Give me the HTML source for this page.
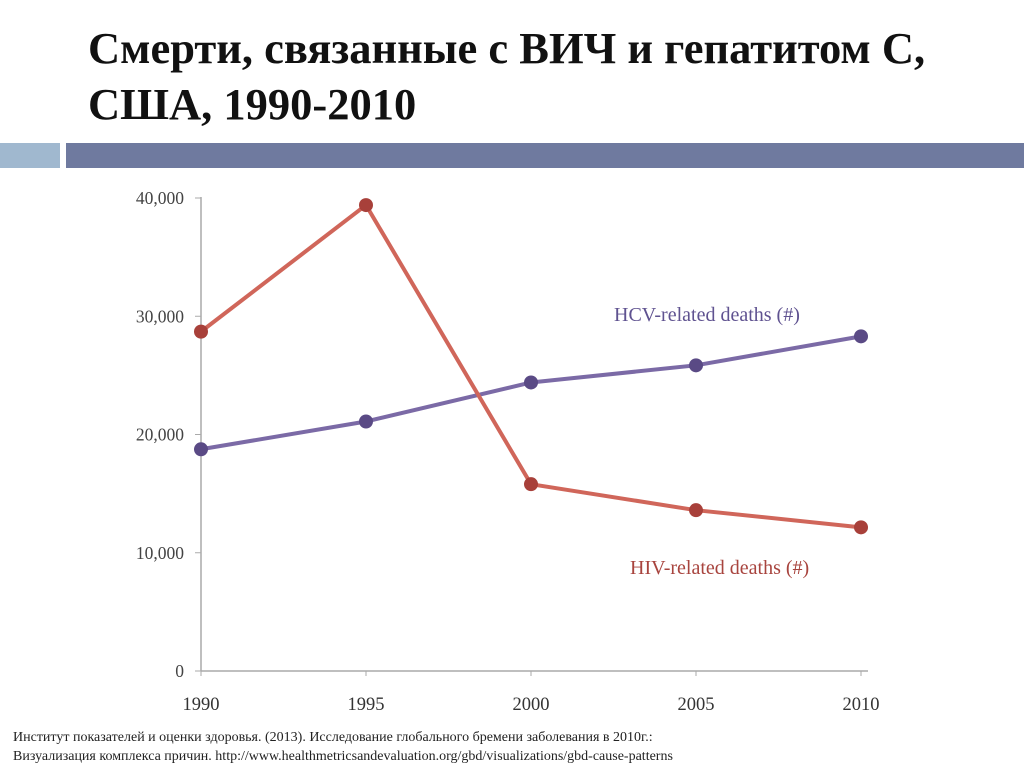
<!DOCTYPE html>
<html><head><meta charset="utf-8"><style>
body{margin:0;width:1024px;height:768px;background:#fff;overflow:hidden;position:relative;font-family:"Liberation Serif",serif}
.t{position:absolute;left:88px;top:20px;font-size:44.5px;font-weight:bold;line-height:56px;color:#111;white-space:nowrap}
.src{position:absolute;left:13px;top:728px;font-size:14px;line-height:19px;color:#222;white-space:nowrap}
</style></head><body>
<div class="t">Смерти, связанные с ВИЧ и гепатитом С,<br>США, 1990-2010</div>
<div style="position:absolute;left:0;top:143px;width:60px;height:25px;background:#a0b8cf"></div>
<div style="position:absolute;left:66px;top:143px;width:958px;height:25px;background:#6f7a9f"></div>
<svg id="c" width="1024" height="768" style="position:absolute;left:0;top:0"></svg>
<div class="src">Институт показателей и оценки здоровья. (2013). Исследование глобального бремени заболевания в 2010г.:<br>Визуализация комплекса причин. http://www.healthmetricsandevaluation.org/gbd/visualizations/gbd-cause-patterns</div>
<script>
const years=[1990,1995,2000,2005,2010];
const hiv=[28700,39400,15800,13600,12150];
const hcv=[18750,21100,24400,25850,28300];
const yTicks=[0,10000,20000,30000,40000];
const yTickLabels=["0","10,000","20,000","30,000","40,000"];
const NS="http://www.w3.org/2000/svg",svg=document.getElementById('c');
const x=v=>201+(v-1990)/20*660;
const y=v=>671-v/40000*473;
function el(t,a,p){const e=document.createElementNS(NS,t);for(const k in a)e.setAttribute(k,a[k]);(p||svg).appendChild(e);return e;}
let a=el('line',{x1:201,y1:197,x2:201,y2:671,stroke:'#aaa','stroke-width':1.5});

a=el('line',{x1:201,y1:671,x2:868,y2:671,stroke:'#aaa','stroke-width':1.5});

yTicks.forEach((v,i)=>{el('line',{x1:195,x2:201,y1:y(v),y2:y(v),stroke:'#aaa'});
const t=el('text',{x:184,y:y(v)+6,'text-anchor':'end','font-size':17.5,fill:'#444','font-family':'Liberation Serif'});t.textContent=yTickLabels[i];
});
years.forEach(v=>{el('line',{x1:x(v),x2:x(v),y1:671,y2:676,stroke:'#aaa'});
const t=el('text',{x:x(v),y:710,'text-anchor':'middle','font-size':18.5,fill:'#333','font-family':'Liberation Serif'});t.textContent=v;
});
function series(d,line,dot,name){
const p=el('polyline',{points:d.map((v,i)=>x(years[i])+','+y(v)).join(' '),fill:'none',stroke:line,'stroke-width':4});

d.forEach((v,i)=>{const c=el('circle',{cx:x(years[i]),cy:y(v),r:7,fill:dot});
});}
series(hcv,'#7b6aa6','#5a4a85','hcv');
series(hiv,'#d0665a','#a8403a','hiv');
let l=el('text',{x:614,y:321,'font-size':20,fill:'#5f5290','font-family':'Liberation Serif'});l.textContent='HCV-related deaths (#)';

l=el('text',{x:630,y:574,'font-size':20,fill:'#a8443e','font-family':'Liberation Serif'});l.textContent='HIV-related deaths (#)';

</script>
</body></html>
